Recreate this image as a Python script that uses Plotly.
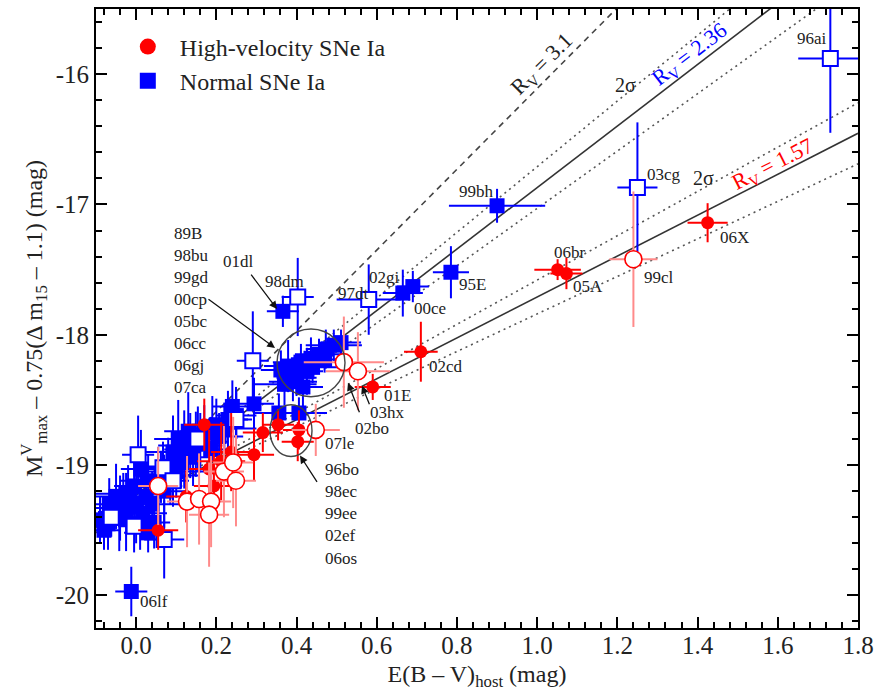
import numpy as np
import plotly.graph_objects as go

# ---------------- data ----------------
# Normal SNe Ia, filled squares
nf_x = [0.90, 0.785, 0.665, 0.69, 0.366, -0.012,
        0.361, 0.379, 0.399, 0.416, 0.411, 0.436, 0.456, 0.473, 0.493, 0.511, 0.426, 0.391,
        0.37, 0.40, 0.44, 0.47,
        0.294, 0.356, 0.406,
        -0.08, -0.05, -0.032, -0.025, -0.005, 0.017, 0.025, 0.045, 0.055, 0.08, 0.092, 0.112,
        0.13, 0.142, 0.17, 0.187, 0.207, 0.229, -0.067, -0.042, 0.012, 0.062, 0.149, 0.20,
        -0.09, -0.07, -0.04, -0.02, 0.0, 0.03, 0.04, 0.07, 0.10, 0.12, 0.16, 0.19, 0.22, 0.25,
        0.03, 0.01, 0.085, 0.105, 0.135, 0.24]
nf_y = [-17.01, -17.52, -17.68, -17.63, -17.82, -19.97,
        -18.27, -18.24, -18.28, -18.40, -18.21, -18.18, -18.15, -18.11, -18.08, -18.06, -18.28, -18.36,
        -18.38, -18.33, -18.25, -18.19,
        -18.53, -18.60, -18.60,
        -19.50, -19.24, -19.26, -19.36, -19.16, -19.37, -19.24, -19.44, -19.16, -19.01, -18.90, -18.98,
        -18.74, -18.94, -18.74, -18.88, -18.78, -18.65, -19.30, -19.41, -19.03, -19.09, -18.84, -18.69,
        -19.42, -19.45, -19.33, -19.22, -19.30, -19.12, -19.30, -19.20, -19.05, -18.88, -18.82, -18.72, -18.72, -18.62,
        -19.52, -19.45, -19.08, -18.80, -18.85, -18.55]
nf_xe = [0.12, 0.045, 0.05, 0.04, 0.04, 0.04,
         0.05, 0.06, 0.04, 0.05, 0.07, 0.05, 0.06, 0.05, 0.07, 0.05, 0.04, 0.06,
         0.08, 0.05, 0.09, 0.06,
         0.05, 0.06, 0.07,
         0.04, 0.06, 0.05, 0.07, 0.05, 0.06, 0.05, 0.04, 0.06, 0.05, 0.07, 0.05,
         0.06, 0.05, 0.06, 0.05, 0.06, 0.05, 0.05, 0.06, 0.05, 0.06, 0.05, 0.06,
         0.05, 0.08, 0.06, 0.09, 0.05, 0.07, 0.10, 0.06, 0.08, 0.05, 0.07, 0.06, 0.08, 0.05,
         0.06, 0.05, 0.07, 0.06, 0.08, 0.05]
nf_ye = [0.13, 0.20, 0.18, 0.12, 0.12, 0.19,
         0.15, 0.20, 0.12, 0.18, 0.14, 0.16, 0.12, 0.15, 0.12, 0.10, 0.18, 0.15,
         0.16, 0.14, 0.12, 0.10,
         0.20, 0.15, 0.12,
         0.15, 0.25, 0.20, 0.30, 0.22, 0.18, 0.25, 0.20, 0.30, 0.22, 0.28, 0.20,
         0.30, 0.22, 0.20, 0.25, 0.18, 0.22, 0.20, 0.25, 0.30, 0.20, 0.25, 0.20,
         0.18, 0.20, 0.25, 0.22, 0.30, 0.20, 0.25, 0.28, 0.20, 0.30, 0.22, 0.25, 0.20, 0.18,
         0.15, 0.20, 0.22, 0.30, 0.25, 0.20]

# Normal SNe Ia, open squares
no_x = [1.731, 1.25, 0.58, 0.403, 0.291, 0.07, 0.005, -0.005, -0.062, 0.154, 0.067, 0.092, 0.249]
no_y = [-15.88, -16.87, -17.73, -17.71, -18.20, -19.57, -18.92, -19.47, -19.40, -18.80, -19.02, -19.12, -18.65]
no_xe = [0.08, 0.05, 0.08, 0.04, 0.04, 0.05, 0.04, 0.04, 0.03, 0.05, 0.04, 0.04, 0.04]
no_ye = [0.57, 0.50, 0.27, 0.30, 0.38, 0.30, 0.30, 0.20, 0.15, 0.25, 0.20, 0.20, 0.25]

# High-velocity SNe Ia, filled circles
hf_x = [1.425, 1.051, 1.073, 0.71, 0.59, 0.403, 0.406, 0.316, 0.354, 0.294, 0.055, 0.17, 0.182, 0.212, 0.237, 0.194, 0.125]
hf_y = [-17.14, -17.50, -17.53, -18.13, -18.40, -18.82, -18.73, -18.75, -18.69, -18.92, -19.50, -18.69, -19.03, -18.97, -18.90, -19.16, -19.24]
hf_xe = [0.05, 0.058, 0.04, 0.042, 0.045, 0.04, 0.04, 0.05, 0.04, 0.05, 0.05, 0.05, 0.05, 0.06, 0.05, 0.05, 0.05]
hf_ye = [0.15, 0.08, 0.12, 0.23, 0.10, 0.15, 0.15, 0.15, 0.12, 0.20, 0.15, 0.20, 0.30, 0.30, 0.30, 0.25, 0.20]

# High-velocity SNe Ia, open circles
ho_x = [1.24, 0.518, 0.553, 0.448, 0.055, 0.127, 0.157, 0.187, 0.182, 0.219, 0.242, 0.249]
ho_y = [-17.42, -18.21, -18.28, -18.73, -19.16, -19.28, -19.26, -19.28, -19.38, -19.05, -18.98, -19.12]
ho_xe = [0.06, 0.10, 0.08, 0.06, 0.05, 0.05, 0.05, 0.05, 0.05, 0.05, 0.05, 0.05]
ho_ye = [0.52, 0.35, 0.30, 0.20, 0.30, 0.35, 0.35, 0.35, 0.40, 0.35, 0.35, 0.35]

# reddening lines: slope R_V, intercept
line_dashed = (3.10, -19.21)
line_normal = (2.36, -19.23)
line_hv = (1.57, -19.28)
sig_normal = 0.16
sig_hv = 0.13

x_ticks = [0.0, 0.2, 0.4, 0.6, 0.8, 1.0, 1.2, 1.4, 1.6, 1.8]
y_ticks = [-16, -17, -18, -19, -20]

list_a = ["89B", "98bu", "99gd", "00cp", "05bc", "06cc", "06gj", "07ca"]
list_b = ["96bo", "98ec", "99ee", "02ef", "06os"]

# ---------------- helpers for annotation placement (pixel -> data) ----------------
XR = (-0.1, 1.8)
YTOP, YBOT = -15.5, -20.25
PL, PR, PT, PB = 96, 858, 7, 628
def X(px):
    return XR[0] + (px - PL) / (PR - PL) * (XR[1] - XR[0])
def Y(py):
    return YTOP + (py - PT) / (PB - PT) * (YBOT - YTOP)

FONT = "Liberation Serif"
BLUE = "#0000ff"
RED = "#ff0000"
PINK = "#ff8a8a"

fig = go.Figure()

# lines
xl = np.array([-0.1, 1.8])
def add_line(slope, icpt, dash, color, width):
    fig.add_trace(go.Scatter(x=xl, y=icpt + slope * xl, mode="lines",
                             line=dict(color=color, dash=dash, width=width),
                             showlegend=False, hoverinfo="skip"))

add_line(*line_dashed, "6px,5px", "#444444", 1.6)
add_line(line_normal[0] + sig_normal, line_normal[1], "2px,4px", "#555555", 1.6)
add_line(line_normal[0] - sig_normal, line_normal[1], "2px,4px", "#555555", 1.6)
add_line(*line_normal, "solid", "#333333", 1.6)
add_line(line_hv[0] + sig_hv, line_hv[1], "2px,4px", "#555555", 1.6)
add_line(line_hv[0] - sig_hv, line_hv[1], "2px,4px", "#555555", 1.6)
add_line(*line_hv, "solid", "#333333", 1.6)

def ebar(arr, color):
    return dict(type="data", array=arr, color=color, thickness=2, width=0)

fig.add_trace(go.Scatter(x=nf_x, y=nf_y, mode="markers",
                         error_x=ebar(nf_xe, BLUE), error_y=ebar(nf_ye, BLUE),
                         marker=dict(symbol="square", size=15, color=BLUE, line=dict(width=0)),
                         showlegend=False))
fig.add_trace(go.Scatter(x=no_x, y=no_y, mode="markers",
                         error_x=ebar(no_xe, BLUE), error_y=ebar(no_ye, BLUE),
                         marker=dict(symbol="square", size=15, color="white", line=dict(width=2, color=BLUE)),
                         showlegend=False))
fig.add_trace(go.Scatter(x=hf_x, y=hf_y, mode="markers",
                         error_x=ebar(hf_xe, RED), error_y=ebar(hf_ye, RED),
                         marker=dict(symbol="circle", size=13, color=RED, line=dict(width=0)),
                         showlegend=False))
fig.add_trace(go.Scatter(x=ho_x, y=ho_y, mode="markers",
                         error_x=ebar(ho_xe, PINK), error_y=ebar(ho_ye, PINK),
                         marker=dict(symbol="circle", size=17, color="white", line=dict(width=1.6, color=RED)),
                         showlegend=False))

# legend entries
fig.add_trace(go.Scatter(x=[None], y=[None], mode="markers", name="High-velocity SNe Ia",
                         marker=dict(symbol="circle", size=16, color=RED)))
fig.add_trace(go.Scatter(x=[None], y=[None], mode="markers", name="Normal SNe Ia",
                         marker=dict(symbol="square", size=16, color=BLUE)))

ann = []
def label(text, px, py, size=17, color="#222222", angle=0, anchor="left"):
    ann.append(dict(x=X(px), y=Y(py), text=text, showarrow=False, xanchor=anchor, yanchor="middle",
                    textangle=angle, font=dict(family=FONT, size=size, color=color)))

for t, px, py in [("96ai", 795, 37), ("03cg", 645, 173), ("06X", 718, 236), ("99cl", 642, 276),
                  ("05A", 571, 285), ("06br", 552, 251), ("02cd", 427, 366), ("01E", 382, 395),
                  ("03hx", 368, 412), ("02bo", 353, 428), ("07le", 323, 443), ("95E", 457, 283),
                  ("00ce", 412, 307), ("02gi", 367, 276), ("97dt", 336, 292), ("98dm", 263, 280),
                  ("01dl", 221, 260), ("99bh", 457, 190), ("06lf", 138, 601)]:
    label(t, px, py)

for i, t in enumerate(list_a):
    label(t, 172, 232 + 22.1 * i)
for i, t in enumerate(list_b):
    label(t, 323, 469 + 22.2 * i)

# line labels
label("R<sub>V</sub> = 3.1", 542, 63, size=22, color="#222222", angle=-45, anchor="center")
label("R<sub>V</sub> = 2.36", 690, 53, size=22, color=BLUE, angle=-37.6, anchor="center")
label("R<sub>V</sub> = 1.57", 773, 163, size=22, color=RED, angle=-27, anchor="center")
label("2σ", 625, 83, size=20, anchor="center")
label("2σ", 703, 177, size=20, anchor="center")

# arrows
for (tx, ty, hx, hy) in [(250, 272, 277, 308), (207, 297, 275, 347), (360, 413, 348, 382),
                         (370, 405, 362, 385), (318, 483, 300, 455)]:
    ann.append(dict(x=X(hx), y=Y(hy), ax=X(tx), ay=Y(ty), axref="x", ayref="y", xref="x", yref="y",
                    text="", showarrow=True, arrowhead=2, arrowsize=1.2, arrowwidth=1.3, arrowcolor="#111111"))

shapes = [
    dict(type="circle", xref="x", yref="y", x0=X(277), x1=X(345), y0=Y(328), y1=Y(396),
         line=dict(color="#444444", width=1.4)),
    dict(type="circle", xref="x", yref="y", x0=X(270), x1=X(312), y0=Y(404), y1=Y(456),
         line=dict(color="#444444", width=1.4)),
]

axis_common = dict(showline=True, linecolor="black", linewidth=2, mirror="allticks",
                   ticks="inside", ticklen=11, tickwidth=1.5, tickcolor="black",
                   showgrid=False, zeroline=False,
                   tickfont=dict(family=FONT, size=25, color="#222222"))

fig.update_layout(
    width=889, height=698,
    margin=dict(l=PL, r=889 - PR, t=PT, b=698 - PB),
    paper_bgcolor="white", plot_bgcolor="white",
    shapes=shapes, annotations=ann,
    legend=dict(x=0.026, y=0.975, xanchor="left", yanchor="top", itemwidth=54,
                font=dict(family=FONT, size=24, color="#222222"), bgcolor="rgba(0,0,0,0)",
                tracegroupgap=0),
    xaxis=dict(range=list(XR), tickvals=x_ticks, ticktext=[f"{v:.1f}" for v in x_ticks],
               minor=dict(dtick=0.04, tick0=0, ticks="inside", ticklen=6, tickwidth=1.5, tickcolor="black"),
               ticklabelstandoff=-6,
               title=dict(text="E(B – V)<sub>host</sub> (mag)", font=dict(family=FONT, size=24, color="#222222"),
                          standoff=7),
               **axis_common),
    yaxis=dict(range=[YBOT, YTOP], tickvals=y_ticks, ticktext=[str(v) for v in y_ticks],
               minor=dict(dtick=0.2, tick0=0, ticks="inside", ticklen=6, tickwidth=1.5, tickcolor="black"),
               ticklabelstandoff=0,
               title=dict(text="M<sup>V</sup><sub>max</sub> – 0.75(Δ m<sub>15</sub> – 1.1) (mag)",
                          font=dict(family=FONT, size=24, color="#222222"), standoff=6),
               **axis_common),
)

fig.write_html("out.html", config={"displayModeBar": False},
               post_script="document.body.style.margin='0';")
